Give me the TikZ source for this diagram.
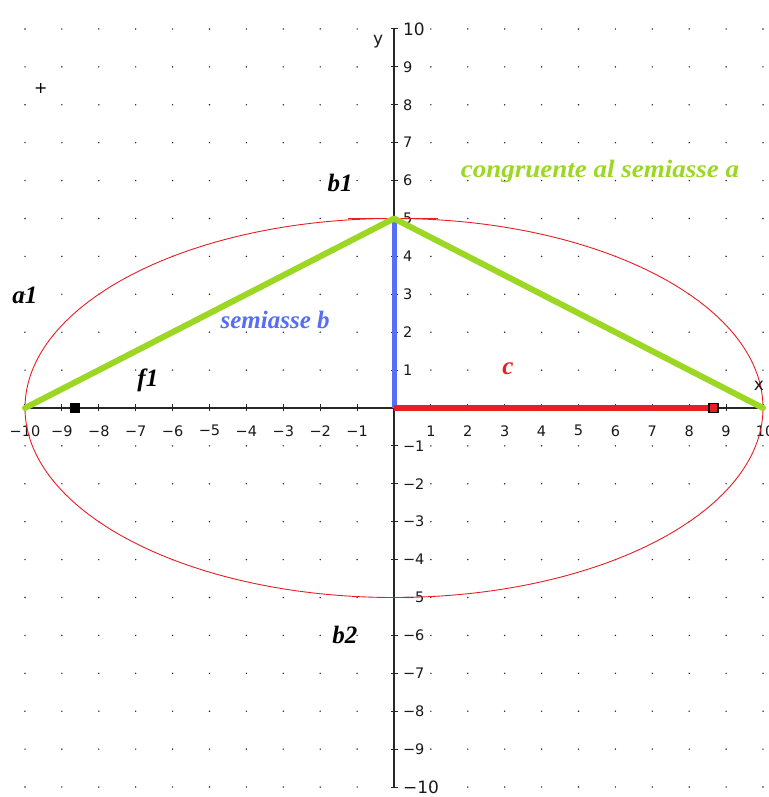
\documentclass[tikz,border=0pt]{standalone}
\usepackage{fontspec}
\setmainfont{Liberation Serif}
\newfontfamily\tickfont{DejaVu Sans}
\definecolor{elred}{RGB}{232,30,38}
\definecolor{elgreen}{RGB}{155,215,35}
\definecolor{elblue}{RGB}{85,110,245}
\begin{document}
\begin{tikzpicture}[x=36.9pt,y=37.9pt,
  lbl/.style={font=\fontsize{25}{25}\selectfont\bfseries\itshape, inner sep=0pt},
  tk/.style={font=\tickfont\fontsize{14.5}{14.5}\selectfont, inner sep=0pt, text=black!90},
  bigtk/.style={font=\tickfont\fontsize{17}{17}\selectfont, inner sep=0pt, text=black!90},
  axis/.style={line width=1.3pt, black!85},
  tick/.style={line width=1pt, black!85},
  gdot/.style={fill=black!85}]
\useasboundingbox (-394pt,-389pt) rectangle (374pt,408pt);
% dot grid
\foreach \i in {-10,...,10}{
  \foreach \j in {-10,...,10}{
    \fill[gdot] (\i,\j) circle (0.8pt);
  }
}
% named points
\coordinate (O) at (0,0);
\coordinate (A) at (-10,0);
\coordinate (A2) at (10,0);
\coordinate (B) at (0,5);
\coordinate (F1) at (-8.66,0);
\coordinate (F2) at (8.66,0);
\coordinate (Xl) at (-10,0);
\coordinate (Xr) at (10,0);
\coordinate (Yb) at (0,-10);
\coordinate (Yt) at (0,10);
\coordinate (Tl) at (-1.25,5);
\coordinate (Tr) at (1.2,5);
% axes
\draw[axis] (Xl) -- (Xr);
\draw[axis] (Yb) -- (Yt);
\foreach \i in {-10,...,-1,1,2,...,10}{
  \draw[tick] (\i,0) ++(0,-3.5pt) -- ++(0,7pt);
  \draw[tick] (0,\i) ++(-3.5pt,0) -- ++(7pt,0);
}
% tick labels
\foreach \i in {-9,...,-1}{
  \node[tk] at (\i,-0.6) {−\the\numexpr-\i\relax};
  \node[tk, anchor=west] at (0.24,\i) {−\the\numexpr-\i\relax};
}
\foreach \i in {1,...,9}{
  \node[tk] at (\i,-0.6) {\i};
  \node[tk, anchor=west] at (0.24,\i) {\i};
}
\node[tk] at (-10,-0.6) {−10};
\node[tk, anchor=west] at (9.8,-0.6) {10};
\node[bigtk, anchor=west] at (0.24,10) {10};
\node[bigtk, anchor=west] at (0.24,-10) {−10};
% ellipse
\draw[elred, line width=0.9pt] (O) ellipse [x radius=10, y radius=5];
\draw[elred, line width=1.8pt] (Tl) -- (Tr);
% segments
\node[draw=black, fill=black, minimum size=9pt, inner sep=0pt] (f1sq) at (F1) {};
\draw[elblue, line width=5pt] (O) -- (B);
\draw[elred, line width=6pt] (O) -- (F2);
\node[draw=black, line width=1.3pt, fill=elred, minimum size=9pt, inner sep=0pt] (f2sq) at (F2) {};
\draw[elgreen, line width=6pt, line join=round, line cap=round] (A) -- (B) -- (A2);
% axis names
\node[tk, font=\tickfont\fontsize{17}{17}\selectfont] (ylab) at (-0.43,9.66) {y};
\node[tk, font=\tickfont\fontsize{17}{17}\selectfont] (xlab) at (9.89,0.58) {x};
\node[font=\tickfont\fontsize{16}{16}\selectfont, inner sep=0pt] (plus) at (-9.57,8.44) {+};
% labels
\node[lbl] (b1) at (-1.46,5.94) {b1};
\node[lbl] (a1) at (-10.0,2.98) {a1};
\node[lbl] (f1) at (-6.67,0.74) {f1};
\node[lbl, text=elblue] (sb) at (-3.22,2.32) {semiasse b};
\node[lbl, text=elred] (c) at (3.09,1.03) {c};
\node[lbl, text=elgreen] (cong) at (5.58,6.23) {\scalebox{1.08}[1]{congruente al semiasse a}};
\node[lbl] (b2) at (-1.33,-5.99) {b2};
\end{tikzpicture}
\end{document}
